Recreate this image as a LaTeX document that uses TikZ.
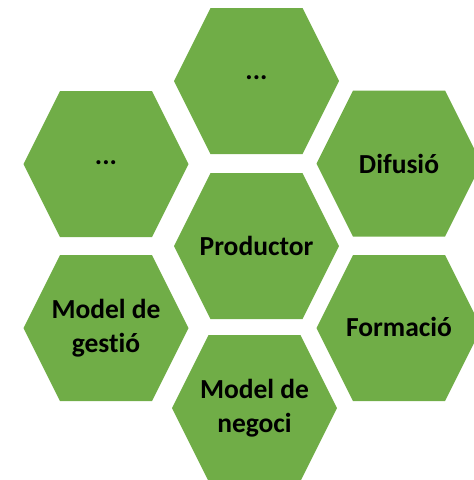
\documentclass[tikz,border=0pt]{standalone}
\usepackage{fontspec}
\setmainfont[Ligatures=NoCommon]{Carlito}
\definecolor{hexgreen}{HTML}{70AD47}
\tikzset{
  hexfill/.style={fill=hexgreen},
  lbl/.style={font=\bfseries\fontsize{27.5}{34}\selectfont, text=black, align=center, inner sep=0pt}
}
\newcommand\hexagonat[4][]{%
  \fill[hexfill] (#2) ++(-82.5,0) -- ++(36.5,-73) -- ++(92,0) -- ++(36.5,73) -- ++(-36.5,73) -- ++(-92,0) -- cycle;
  \node[lbl,#1] (#3) at (#2) {#4};
}
\begin{document}
\begin{tikzpicture}[x=1pt,y=-1pt]
\useasboundingbox (0,0) rectangle (474,480);
\clip (0,0) rectangle (474,480);
\coordinate (cTop) at (256.5,81);
\coordinate (cLT) at (106,164);
\coordinate (cMid) at (256.5,246);
\coordinate (cRT) at (399,163.5);
\coordinate (cLB) at (106,328);
\coordinate (cBot) at (254.5,408);
\coordinate (cRB) at (399,328);
\hexagonat[yshift=3pt]{cTop}{top}{...}
\hexagonat[yshift=1pt]{cLT}{lefttop}{...}
\hexagonat{cMid}{prod}{Productor}
\hexagonat{cRT}{difu}{Difusió}
\hexagonat{cLB}{gestio}{Model de\\gestió}
\hexagonat{cBot}{negoci}{Model de\\negoci}
\hexagonat[yshift=1.5pt]{cRB}{forma}{Formació}
\end{tikzpicture}
\end{document}
